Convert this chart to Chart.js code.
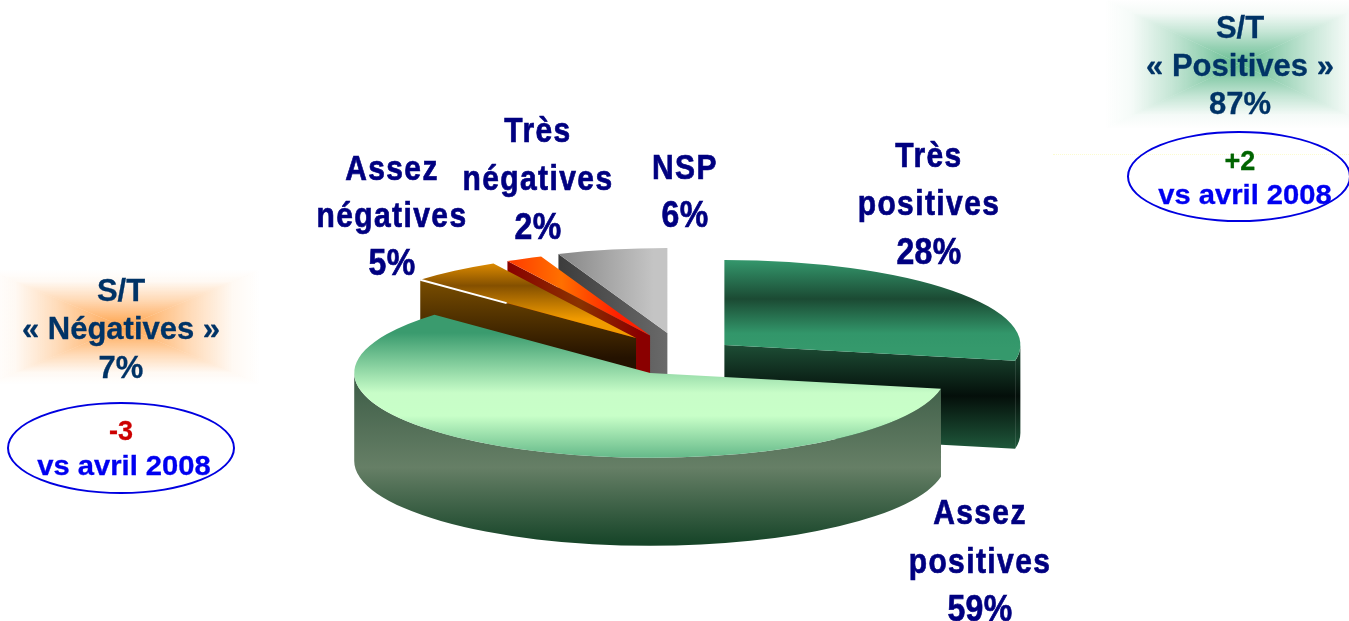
<!DOCTYPE html>
<html lang="fr">
<head>
<meta charset="UTF-8" />
<title>Opinions</title>
<script src="https://cdn.jsdelivr.net/npm/chart.js"></script>
<style>
  html, body { margin: 0; padding: 0; background: #fff; overflow: hidden; }
  #page { position: relative; width: 1349px; height: 621px; overflow: hidden; font-family: 'Liberation Sans', Arial, sans-serif; font-weight: bold; }
  canvas { position: absolute; left: 0; top: 0; }
  .txt { position: absolute; white-space: nowrap; transform: translate(-50%, -50%); line-height: 1; }
  .oval { position: absolute; box-sizing: border-box; border: 2px solid #0000e0; border-radius: 50%; }
  .dots { position: absolute; left: 1053px; top: 154px; width: 296px; border-top: 1px dotted #fbfbd0; }
</style>
</head>
<body>
<div id="page">
  <canvas id="pie" width="1349" height="621"></canvas>
  <div class="dots"></div>
  <div class="oval" style="left:1127px;top:131px;width:224px;height:91px"></div>
  <div class="oval" style="left:7px;top:402px;width:228px;height:92px"></div>
</div>

<script>
  const categories = ['Très positives', 'Assez positives', 'Assez négatives', 'Très négatives', 'NSP'];
  const values = [28, 59, 5, 2, 6];
  const explode = [55, 70, 75, 75, 78];
  const groupNames = ['« Positives »', '« Négatives »'];
  const groupValues = [87, 7];
  const groupChanges = ['+2', '-3'];
  const compareLabel = 'vs avril 2008';

  // la tarte est écrasée verticalement pour faire la perspective
  const SQUASH = 0.287;
  const DEPTH = 88;
  const RADIUS = 296;
  const PIE_X = 682, PIE_Y = 355;
  const paintOrder = [4, 3, 2, 0, 1];

  const topFills = [
    { dir: 'y', from: 260, to: 358, stops: [[0, '#369c6c'], [0.12, '#33946a'], [0.5, '#1b4a33'], [0.85, '#32966a'], [1, '#35996c']] },
    { dir: 'y', from: 315, to: 458, stops: [[0, '#3a9b6e'], [0.42, '#c8fdc8'], [0.58, '#c8ffc8'], [1, '#3a9b6e']] },
    { dir: 'y', from: 262, to: 336, stops: [[0, '#ff9f00'], [0.25, '#dc8a00'], [0.55, '#845000'], [1, '#f09a00']] },
    { dir: 'x', from: 508, to: 650, stops: [[0, '#ff1a00'], [0.6, '#ff7000'], [1, '#ff2000']] },
    { dir: 'x', from: 558, to: 668, stops: [[0, '#7c7c7c'], [1, '#c4c4c4']] }
  ];
  const wallFills = [
    { dir: 'y', from: 345, to: 447, stops: [[0, '#1d4d35'], [0.5, '#040f0a'], [1, '#1e5539']] },
    { dir: 'y', from: 375, to: 543, stops: [[0, '#3c5c46'], [0.55, '#667f66'], [1, '#174529']] },
    { dir: 'y', from: 280, to: 358, stops: [[0, '#7a4e00'], [1, '#241200']] },
    { dir: 'x', from: 508, to: 650, stops: [[0, '#8a0000'], [0.5, '#8a3300'], [0.92, '#8a0000'], [1, '#8a0000']] },
    { dir: 'x', from: 558, to: 668, stops: [[0, '#3c3c3c'], [1, '#6a6a6a']] }
  ];
  const glows = [
    { x: 1105, y: 0, w: 270, h: 128, color: '60,170,115' },
    { x: -12, y: 270, w: 272, h: 114, color: '255,140,30' }
  ];

  function makeGradient(ctx, f, toUser) {
    const a = toUser ? toUser(f.from) : f.from;
    const b = toUser ? toUser(f.to) : f.to;
    const g = f.dir === 'y' ? ctx.createLinearGradient(0, a, 0, b) : ctx.createLinearGradient(a, 0, b, 0);
    f.stops.forEach(s => g.addColorStop(s[0], s[1]));
    return g;
  }

  // le fill du dessus est posé dans le repère écrasé
  function unsquash(y) { return PIE_Y + (y - PIE_Y) / SQUASH; }

  function topFill(c) {
    if (c.dataIndex === undefined) return '#888';
    const f = topFills[c.dataIndex];
    return makeGradient(c.chart.ctx, f, f.dir === 'y' ? unsquash : null);
  }

  function sliceShift(arc, i) {
    const mid = (arc.startAngle + arc.endAngle) / 2;
    return { x: Math.cos(mid) * explode[i], y: Math.sin(mid) * explode[i] };
  }

  function sliceCenter(arc, i) {
    const s = sliceShift(arc, i);
    return { x: arc.x + s.x, y: PIE_Y + (arc.y + s.y - PIE_Y) * SQUASH };
  }

  function drawWall(ctx, arc, i) {
    const c = sliceCenter(arc, i);
    const r = arc.outerRadius;
    const ry = r * SQUASH;
    ctx.fillStyle = makeGradient(ctx, wallFills[i]);

    // face coupée visible
    [[arc.startAngle, Math.cos(arc.startAngle) < -0.01], [arc.endAngle, Math.cos(arc.endAngle) > 0.01]].forEach(e => {
      if (!e[1]) return;
      const px = c.x + Math.cos(e[0]) * r, py = c.y + Math.sin(e[0]) * ry;
      ctx.beginPath();
      ctx.moveTo(c.x, c.y);
      ctx.lineTo(px, py);
      ctx.lineTo(px, py + DEPTH);
      ctx.lineTo(c.x, c.y + DEPTH);
      ctx.closePath();
      ctx.fill();
    });

    // bord extérieur, seulement la moitié avant
    const lo = Math.max(arc.startAngle, 0), hi = Math.min(arc.endAngle, Math.PI);
    if (lo < hi) {
      ctx.beginPath();
      ctx.ellipse(c.x, c.y, r, ry, 0, lo, hi);
      ctx.ellipse(c.x, c.y + DEPTH, r, ry, 0, hi, lo, true);
      ctx.closePath();
      ctx.fill();
    }
  }

  const pie3d = {
    id: 'pie3d',
    beforeDraw(chart) {
      const ctx = chart.ctx;
      glows.forEach(b => {
        const cx = b.x + b.w / 2, cy = b.y + b.h / 2;
        const corners = [[b.x, b.y], [b.x + b.w, b.y], [b.x + b.w, b.y + b.h], [b.x, b.y + b.h]];
        corners.forEach((p, k) => {
          const q = corners[(k + 1) % 4];
          const ex = k % 2 ? q[0] : cx, ey = k % 2 ? cy : q[1];
          const g = ctx.createLinearGradient(ex, ey, cx, cy);
          g.addColorStop(0, `rgba(${b.color},0)`);
          g.addColorStop(0.2, `rgba(${b.color},0.05)`);
          g.addColorStop(0.5, `rgba(${b.color},0.3)`);
          g.addColorStop(1, `rgba(${b.color},0.8)`);
          ctx.fillStyle = g;
          ctx.beginPath();
          ctx.moveTo(p[0], p[1]);
          ctx.lineTo(q[0], q[1]);
          ctx.lineTo(cx, cy);
          ctx.closePath();
          ctx.fill();
        });
      });
    },
    beforeDatasetDraw(chart, args) {
      const ctx = chart.ctx;
      const arcs = args.meta.data;
      paintOrder.forEach(i => {
        const arc = arcs[i];
        const s = sliceShift(arc, i);
        drawWall(ctx, arc, i);
        ctx.save();
        ctx.translate(s.x, PIE_Y + s.y * SQUASH);
        ctx.scale(1, SQUASH);
        ctx.translate(0, -PIE_Y);
        arc.draw(ctx);
        ctx.restore();
        if (i === 2) {
          // petit filet blanc sur le bord de la part orange
          const c = sliceCenter(arc, i);
          const dx = Math.cos(arc.startAngle) * arc.outerRadius, dy = Math.sin(arc.startAngle) * arc.outerRadius * SQUASH;
          ctx.strokeStyle = '#fff';
          ctx.lineWidth = 2;
          ctx.beginPath();
          ctx.moveTo(c.x + dx, c.y + dy);
          ctx.lineTo(c.x + dx * 0.6, c.y + dy * 0.6);
          ctx.stroke();
        }
      });
      return false;
    }
  };

  new Chart(document.getElementById('pie'), {
    type: 'pie',
    data: {
      labels: categories,
      datasets: [{
        data: values,
        backgroundColor: topFill,
        borderWidth: 0,
        radius: RADIUS,
        clip: false
      }]
    },
    options: {
      responsive: false,
      animation: false,
      radius: RADIUS,
      layout: { padding: { left: PIE_X * 2 - 1349, top: PIE_Y * 2 - 621 } },
      plugins: { legend: { display: false }, tooltip: { enabled: false } },
      events: []
    },
    plugins: [pie3d]
  });

  function addText(str, x, y, size, color, scaleX, scaleY, spacing, stroke) {
    const d = document.createElement('div');
    d.className = 'txt';
    d.textContent = str;
    d.style.left = x + 'px';
    d.style.top = y + 'px';
    d.style.fontSize = size + 'px';
    d.style.color = color;
    d.style.letterSpacing = (spacing || 0) + 'px';
    d.style.webkitTextStroke = (stroke || 0) + 'px ' + color;
    d.style.transform = `translate(-50%,-50%) scale(${scaleX},${scaleY})`;
    document.getElementById('page').appendChild(d);
  }

  // étiquettes des parts : cx puis centre de chaque ligne
  const labelSpots = [[929, [155, 203, 251]], [980, [512, 561, 608]], [392, [168, 215, 262]], [538, [130, 178, 226]], [685, [167, 214]]];
  categories.forEach((name, i) => {
    const words = name.split(' ');
    words.forEach((line, k) => addText(line, labelSpots[i][0], labelSpots[i][1][k], 30, '#000080', 1, 1.18, 1.4, 0.6));
    addText(values[i] + '%', labelSpots[i][0], labelSpots[i][1][words.length], 32, '#000080', 1, 1.18, 0.3, 0.6);
  });

  // encadrés S/T
  const groupSpots = [[1240, [27, 65, 103], [161, 195]], [121, [290, 328, 367], [431, 466]]];
  const changeColors = ['#006400', '#cc0000'];
  groupNames.forEach((name, i) => {
    const s = groupSpots[i];
    [['S/T'], [name], [groupValues[i] + '%']].forEach((l, k) => addText(l[0], s[0], s[1][k], 31, '#003366', 1, 1, 0, 0.3));
    addText(groupChanges[i], s[0], s[2][0], 27, changeColors[i], 1, 1, 0, 0.3);
    addText(compareLabel, i === 0 ? 1245 : 124, s[2][1], 27, '#0000f0', 1.08, 1, 0, 0.3);
  });
</script>
</body>
</html>
